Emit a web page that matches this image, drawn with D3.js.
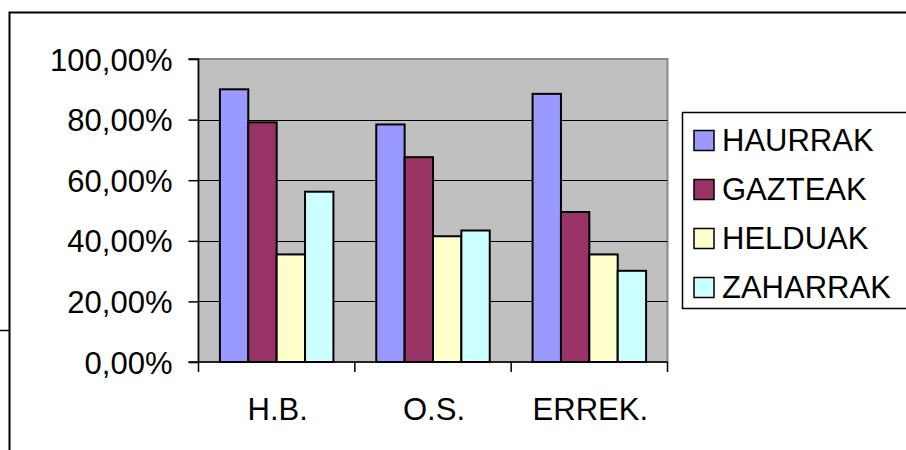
<!DOCTYPE html>
<html>
<head>
<meta charset="utf-8">
<script src="https://cdn.jsdelivr.net/npm/d3@7"></script>
<style>
  html, body { margin: 0; padding: 0; background: #fff; }
  svg { display: block; }
  text { font-family: "Liberation Sans", Arial, sans-serif; fill: #000; }
</style>
</head>
<body>
<svg id="chart" width="906" height="450"></svg>
<script>
const categories = ["H.B.", "O.S.", "ERREK."];
const seriesNames = ["HAURRAK", "GAZTEAK", "HELDUAK", "ZAHARRAK"];
const haurrak = [0.90, 0.784, 0.885];
const gazteak = [0.791, 0.676, 0.495];
const helduak = [0.355, 0.415, 0.355];
const zaharrak = [0.562, 0.434, 0.301];
const yTicks = [0, 0.2, 0.4, 0.6, 0.8, 1.0];
const colors = ["#9999FF", "#993366", "#FFFFCC", "#CCFFFF"];

const seriesValues = [haurrak, gazteak, helduak, zaharrak];

const svg = d3.select("#chart");
const plot = { left: 198.5, top: 59, right: 667.5, bottom: 362 };

// outer chart frame
svg.append("path")
  .attr("d", "M9.5,450 L9.5,12.5 L906,12.5")
  .attr("fill", "none").attr("stroke", "#000").attr("stroke-width", 2);
svg.append("line").attr("x1", 0).attr("x2", 9).attr("y1", 330.5).attr("y2", 330.5)
  .attr("stroke", "#000").attr("stroke-width", 1.5);

const x0 = d3.scaleBand().domain(categories).range([plot.left, plot.right]).paddingInner(0.274).paddingOuter(0.137);
const x1 = d3.scaleBand().domain(seriesNames).range([0, x0.bandwidth()]);
const y = d3.scaleLinear().domain([0, 1]).range([plot.bottom, plot.top]);

// plot area background
svg.append("rect")
  .attr("x", plot.left).attr("y", plot.top)
  .attr("width", plot.right - plot.left).attr("height", plot.bottom - plot.top)
  .attr("fill", "#C0C0C0").attr("stroke", "#888").attr("stroke-width", 2);

// gridlines
svg.append("g").selectAll("line").data(yTicks.slice(1, -1)).join("line")
  .attr("x1", plot.left).attr("x2", plot.right)
  .attr("y1", d => Math.round(y(d)) + 0.5).attr("y2", d => Math.round(y(d)) + 0.5)
  .attr("stroke", "#000").attr("stroke-width", 1.2);

// bars
const groups = svg.append("g").selectAll("g").data(categories).join("g")
  .attr("transform", c => `translate(${x0(c)},0)`);
groups.selectAll("rect")
  .data((c, ci) => seriesNames.map((s, si) => ({ s, v: seriesValues[si][ci], color: colors[si] })))
  .join("rect")
  .attr("x", d => x1(d.s))
  .attr("y", d => y(d.v))
  .attr("width", x1.bandwidth())
  .attr("height", d => plot.bottom - y(d.v))
  .attr("fill", d => d.color)
  .attr("stroke", "#000").attr("stroke-width", 2);

// y axis
const yAxis = d3.axisLeft(y).tickValues(yTicks).tickSize(10).tickPadding(16)
  .tickFormat(d => d3.format(".2f")(d * 100).replace(".", ",") + "%");
const gy = svg.append("g").attr("transform", `translate(${plot.left},0)`).call(yAxis);
gy.select(".domain").attr("stroke", "#000").attr("stroke-width", 1.5).attr("d", `M-10,${plot.top}H0V${plot.bottom}`);
gy.selectAll(".tick line").attr("stroke", "#000").attr("stroke-width", 1.5);
gy.selectAll(".tick text").style("font-size", "31px").attr("dy", "0.36em")
  .style("font-family", '"Liberation Sans", Arial, sans-serif').attr("fill", "#000");

// x axis
const xEdges = d3.scaleLinear().domain([0, categories.length]).range([plot.left, plot.right]);
const gx = svg.append("g");
gx.append("line").attr("x1", plot.left - 10).attr("x2", plot.right)
  .attr("y1", plot.bottom).attr("y2", plot.bottom).attr("stroke", "#000").attr("stroke-width", 1.5);
gx.selectAll("line.t").data(d3.range(categories.length + 1)).join("line").attr("class", "t")
  .attr("x1", d => xEdges(d)).attr("x2", d => xEdges(d))
  .attr("y1", plot.bottom).attr("y2", plot.bottom + 10)
  .attr("stroke", "#000").attr("stroke-width", 1.5);
gx.selectAll("text").data(categories).join("text")
  .attr("x", c => x0(c) + x0.bandwidth() / 2 + 1)
  .attr("y", 420)
  .attr("text-anchor", "middle")
  .style("font-size", "31px")
  .text(c => c);

// legend
const lg = svg.append("g");
lg.append("rect").attr("x", 682.5).attr("y", 112.5).attr("width", 240).attr("height", 196)
  .attr("fill", "#fff").attr("stroke", "#000").attr("stroke-width", 1.5);
const items = lg.selectAll("g").data(seriesNames).join("g")
  .attr("transform", (d, i) => `translate(0,${i * 49})`);
items.append("rect").attr("x", 694).attr("y", 130.5).attr("width", 20).attr("height", 20)
  .attr("fill", (d, i) => colors[i]).attr("stroke", "#000").attr("stroke-width", 1.5);
items.append("text").attr("x", 722).attr("y", 150.5)
  .style("font-size", "31px").text(d => d);
</script>
</body>
</html>
